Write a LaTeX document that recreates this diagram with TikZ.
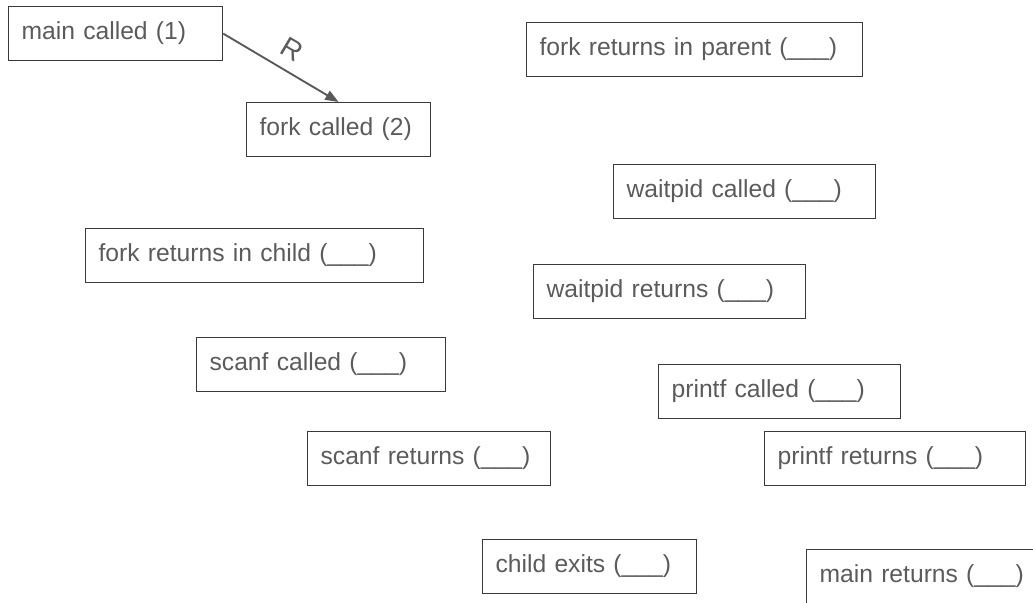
\documentclass[tikz,border=0pt]{standalone}
\usepackage{fontspec}
\setmainfont{Liberation Sans}
\usepackage{xcolor}
\usetikzlibrary{arrows.meta}
\definecolor{boxline}{HTML}{3A3A3A}
\definecolor{labeltext}{HTML}{5B5B5B}
\definecolor{arrowgrey}{HTML}{595959}

\begin{document}
\begin{tikzpicture}[x=0.75pt, y=-0.75pt,
  event/.style={draw=boxline, line width=0.9pt, anchor=north west, minimum height=40.5pt, inner xsep=9.75pt, align=left, text=labeltext, font=\fontsize{18.5}{22}\selectfont},
  call/.style={-{Triangle[length=10pt,width=7.5pt]}, draw=arrowgrey, line width=1.4pt},
  edgelabel/.style={text=labeltext, font=\fontsize{21}{24}\selectfont}
]
  \clip (0,0) rectangle (1033,603);

  \node[event, text width=141pt] (main) at (8,6) {main called (1)};
  \node[event, text width=118.5pt] (forkcall) at (246,102) {fork called (2)};
  \node[event, text width=232.5pt] (forkparent) at (526,22) {fork returns in parent (\_\_\_)};
  \node[event, text width=177pt] (waitcall) at (613,164) {waitpid called (\_\_\_)};
  \node[event, text width=234pt] (forkchild) at (85,228) {fork returns in child (\_\_\_)};
  \node[event, text width=184.5pt] (waitret) at (533,264) {waitpid returns (\_\_\_)};
  \node[event, text width=167.25pt] (scanfcall) at (196,337) {scanf called (\_\_\_)};
  \node[event, text width=162pt] (printfcall) at (658,364) {printf called (\_\_\_)};
  \node[event, text width=162.75pt] (scanfret) at (307,431) {scanf returns (\_\_\_)};
  \node[event, text width=176.25pt] (printfret) at (764,431) {printf returns (\_\_\_)};
  \node[event, text width=141pt] (childexit) at (482,539) {child exits (\_\_\_)};
  \node[event, text width=168pt] (mainret) at (806,549) {main returns (\_\_\_)};

  \draw[call] (main.east) -- node[edgelabel, sloped, above=5pt, pos=0.5] (rlabel) {R} (forkcall.north);
\end{tikzpicture}
\end{document}
